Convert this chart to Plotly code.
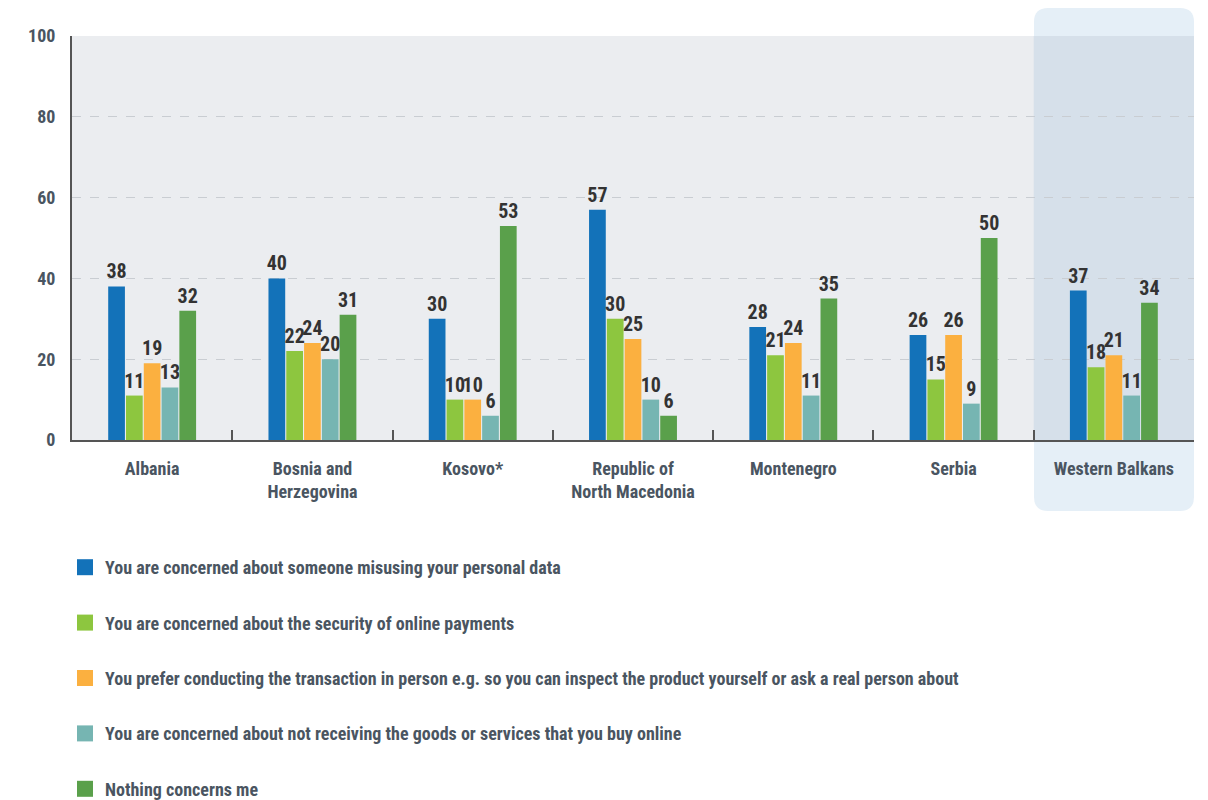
import plotly.graph_objects as go

categories = ["Albania", "Bosnia and<br>Herzegovina", "Kosovo*", "Republic of<br>North Macedonia",
              "Montenegro", "Serbia", "Western Balkans"]
series_names = [
    "You are concerned about someone misusing your personal data",
    "You are concerned about the security of online payments",
    "You prefer conducting the transaction in person e.g. so you can inspect the product yourself or ask a real person about",
    "You are concerned about not receiving the goods or services that you buy online",
    "Nothing concerns me",
]
misuse_data = [38, 40, 30, 57, 28, 26, 37]
online_payments = [11, 22, 10, 30, 21, 15, 18]
in_person = [19, 24, 10, 25, 24, 26, 21]
not_receiving = [13, 20, 6, 10, 11, 9, 11]
nothing = [32, 31, 53, 6, 35, 50, 34]
yticks = [0, 20, 40, 60, 80, 100]

series_values = [misuse_data, online_payments, in_person, not_receiving, nothing]
colors = ["#1372b9", "#8dc63f", "#fbb040", "#76b5b2", "#5aa04b"]

FONT = "Liberation Sans Narrow, Roboto Condensed, Roboto, Arial Narrow, sans-serif"
LABEL_COLOR = "#4a5561"

fig = go.Figure()
for name, vals, col in zip(series_names, series_values, colors):
    fig.add_trace(go.Bar(
        x=categories, y=vals, name=name, marker_color=col,
        marker_line_width=0,
        text=[str(v) for v in vals], textposition="outside",
        textfont=dict(family=FONT, size=20, color="#333333", weight="bold"),
        cliponaxis=False, constraintext="none", showlegend=False,
    ))
# legend proxies
for i, (name, col) in enumerate(zip(series_names, colors)):
    fig.add_trace(go.Scatter(
        x=[None], y=[None], mode="markers", name=name, legendgroup=f"g{i}",
        marker=dict(symbol="square", size=16, color=col), showlegend=True,
    ))

OFF = 8  # page body margin
W, H = 1200, 792
L, T = 72 - OFF, 36 - OFF
R = W - (1194 - OFF)
B = H - (440 - OFF)
pw, ph = W - L - R, H - T - B

def px_x(p):
    return (p - OFF - L) / pw

def px_y(p):
    return (H - B - (p - OFF)) / ph

# rounded highlight box behind Western Balkans
x0, x1 = px_x(1034), px_x(1194)
y0, y1 = px_y(511), px_y(8)
r = 14
rx, ry = r / pw, r / ph
path = (f"M{x0+rx},{y1} L{x1-rx},{y1} Q{x1},{y1} {x1},{y1-ry} "
        f"L{x1},{y0+ry} Q{x1},{y0} {x1-rx},{y0} "
        f"L{x0+rx},{y0} Q{x0},{y0} {x0},{y0+ry} "
        f"L{x0},{y1-ry} Q{x0},{y1} {x0+rx},{y1} Z")
fig.add_shape(type="path", path=path, xref="paper", yref="paper",
              fillcolor="#e5eff7", line_width=0, layer="below")
fig.add_shape(type="rect", xref="x", yref="y", x0=5.5, x1=6.5, y0=0, y1=100,
              fillcolor="#d6e0ea", line_width=0, layer="below")

fig.update_layout(
    width=W, height=H,
    margin=dict(l=L, r=R, t=T, b=B, autoexpand=False),
    paper_bgcolor="white", plot_bgcolor="#ebedf0",
    barmode="group", bargap=0.445, bargroupgap=0.06,
    font=dict(family=FONT, color=LABEL_COLOR),
    legend=dict(
        orientation="v", x=px_x(65), xanchor="left", y=px_y(549), yanchor="top",
        font=dict(family=FONT, size=18, color=LABEL_COLOR, weight="bold"),
        tracegroupgap=29, bgcolor="rgba(0,0,0,0)", itemwidth=30,
    ),
    showlegend=True,
)
fig.update_xaxes(
    type="category", showgrid=False, showline=True, linecolor="#555555", linewidth=2,
    ticks="inside", tickson="boundaries", ticklen=10, tickcolor="#555555", tickwidth=1.5,
    tickfont=dict(family=FONT, size=18, color=LABEL_COLOR, weight="bold"),
    ticklabelstandoff=11,
)
fig.update_yaxes(
    range=[0, 100], tickvals=yticks, showgrid=True, gridcolor="#c9cdd2", griddash="dash",
    gridwidth=1, showline=True, linecolor="#555555", linewidth=2, ticks="",
    tickfont=dict(family=FONT, size=18, color=LABEL_COLOR, weight="bold"),
    ticklabelstandoff=11, zeroline=False,
)

fig.write_html("out.html")
